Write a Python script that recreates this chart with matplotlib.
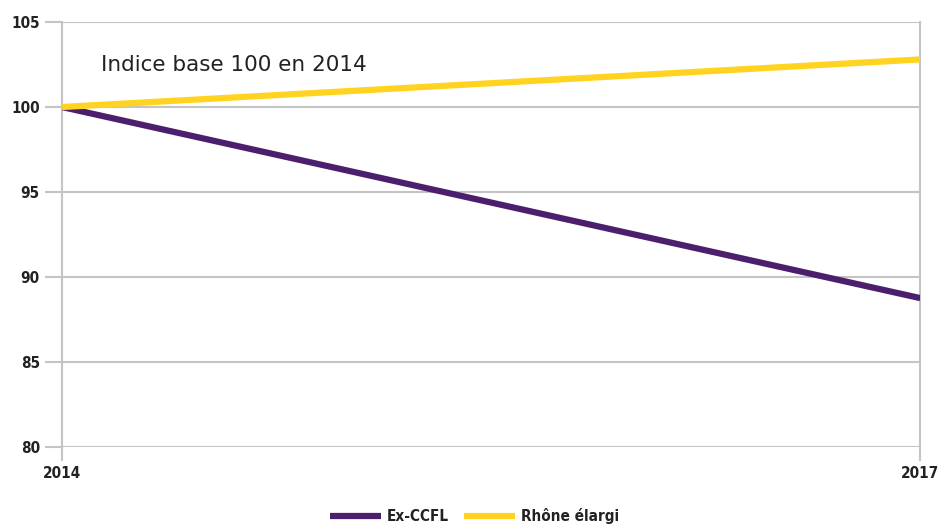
import matplotlib
matplotlib.use("Agg")
import matplotlib.pyplot as plt
from matplotlib.font_manager import FontProperties

annees = [2014, 2017]
ex_ccfl = [100, 88.75]
rhone_elargi = [100, 102.8]
graduations_y = [80, 85, 90, 95, 100, 105]

gris = "#c4c4c4"
violet = "#4b1e6e"
jaune = "#ffd320"

police = FontProperties(family="DejaVu Sans", weight="bold", stretch="condensed", size=11)

fig = plt.figure(figsize=(9.4, 5.25), dpi=100)
ax = fig.add_axes([0.066, 0.149, 0.913, 0.809])

ax.plot(annees, ex_ccfl, color=violet, lw=4.5, solid_capstyle="butt", label="Ex-CCFL", zorder=3)
ax.plot(annees, rhone_elargi, color=jaune, lw=4.5, solid_capstyle="butt", label="Rhône élargi", zorder=3)

ax.set_xlim(2014, 2017)
ax.set_ylim(80, 105)
ax.set_yticks(graduations_y)
ax.set_xticks(annees)
ax.set_xticklabels([str(a) for a in annees])
for t in ax.get_xticklabels() + ax.get_yticklabels():
    t.set_fontproperties(police)

ax.grid(axis="y", color=gris, lw=1.5)
for s in ["top", "bottom"]:
    ax.spines[s].set_visible(False)
for s in ["left", "right"]:
    ax.spines[s].set_color(gris)
    ax.spines[s].set_linewidth(1.5)

ax.tick_params(axis="y", length=12, width=1.5, color=gris, pad=4, labelcolor="#222222")
ax.tick_params(axis="x", length=10, width=1.5, color=gris, pad=4, labelcolor="#222222")

ax.text(0.045, 0.90, "Indice base 100 en 2014", transform=ax.transAxes, fontsize=15.5,
        color="#222222", va="center")

leg = fig.legend(loc="lower center", bbox_to_anchor=(0.505, -0.025), ncol=2, frameon=False,
                 prop=police, handlelength=3.3, columnspacing=1.0, handletextpad=0.4)
for t in leg.get_texts():
    t.set_color("#222222")

fig.savefig("out.png", dpi=100)
